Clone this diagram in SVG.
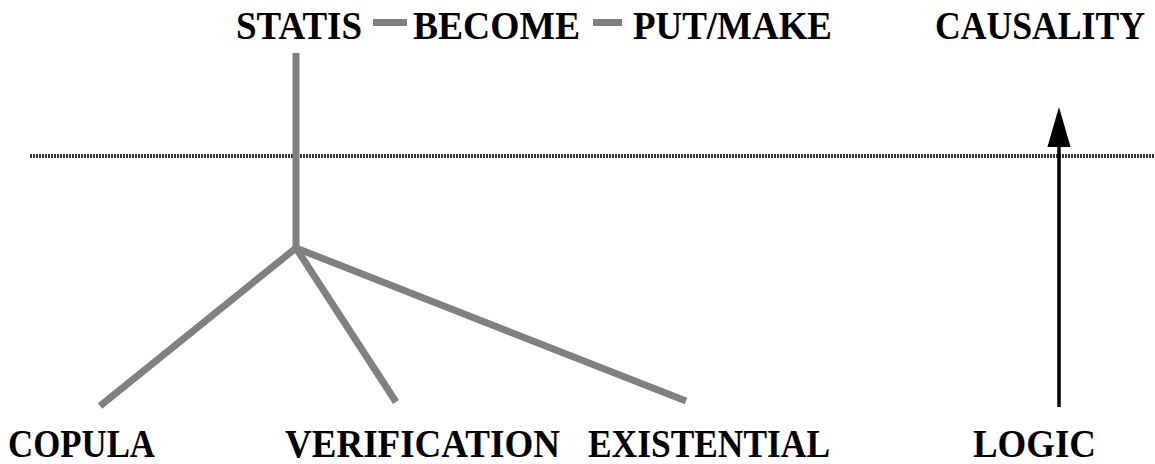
<svg xmlns="http://www.w3.org/2000/svg" width="1155" height="464" viewBox="0 0 1155 464">
<style>
.t{font-family:"Liberation Serif","Times New Roman",serif;font-weight:bold;font-size:39px;fill:#000}
.g{stroke:#808080;stroke-width:7;fill:none}
</style>
<defs>
<marker id="ah" markerUnits="userSpaceOnUse" markerWidth="40" markerHeight="24" refX="0" refY="11" orient="auto" viewBox="0 0 38 22">
<path d="M0,0 L38,11 L0,22 Z" fill="#000"/>
</marker>
</defs>
<rect width="1155" height="464" fill="#fff"/>
<line x1="30" y1="156" x2="1155" y2="156" stroke="#333" stroke-width="4" stroke-dasharray="2 1"/>
<g id="statis"><text class="t" x="236" y="39" textLength="126" lengthAdjust="spacingAndGlyphs">STATIS</text></g>
<g id="become"><text class="t" x="413" y="39" textLength="167" lengthAdjust="spacingAndGlyphs">BECOME</text></g>
<g id="putmake"><text class="t" x="633" y="39" textLength="199" lengthAdjust="spacingAndGlyphs">PUT/MAKE</text></g>
<g id="causality"><text class="t" x="935" y="39" style="font-size:36px" transform="translate(0,39) scale(1,1.083) translate(0,-39)" textLength="210" lengthAdjust="spacingAndGlyphs">CAUSALITY</text></g>
<g id="copula"><text class="t" x="8" y="457" textLength="147" lengthAdjust="spacingAndGlyphs">COPULA</text></g>
<g id="verification"><text class="t" x="285" y="457" textLength="275" lengthAdjust="spacingAndGlyphs">VERIFICATION</text></g>
<g id="existential"><text class="t" x="588" y="457" textLength="242" lengthAdjust="spacingAndGlyphs">EXISTENTIAL</text></g>
<g id="logic"><text class="t" x="973" y="457" textLength="123" lengthAdjust="spacingAndGlyphs">LOGIC</text></g>
<g id="connectors">
<rect x="373" y="19" width="34" height="7" fill="#808080"/>
<rect x="593" y="19" width="29" height="7" fill="#808080"/>
<line class="g" x1="296" y1="53" x2="296" y2="248"/>
<line class="g" x1="296" y1="248" x2="100" y2="406"/>
<line class="g" x1="296" y1="248" x2="396" y2="402"/>
<line class="g" x1="296" y1="248" x2="686" y2="401"/>
<line x1="1059" y1="407" x2="1059" y2="147" stroke="#000" stroke-width="3.5" marker-end="url(#ah)"/>
</g>
</svg>
